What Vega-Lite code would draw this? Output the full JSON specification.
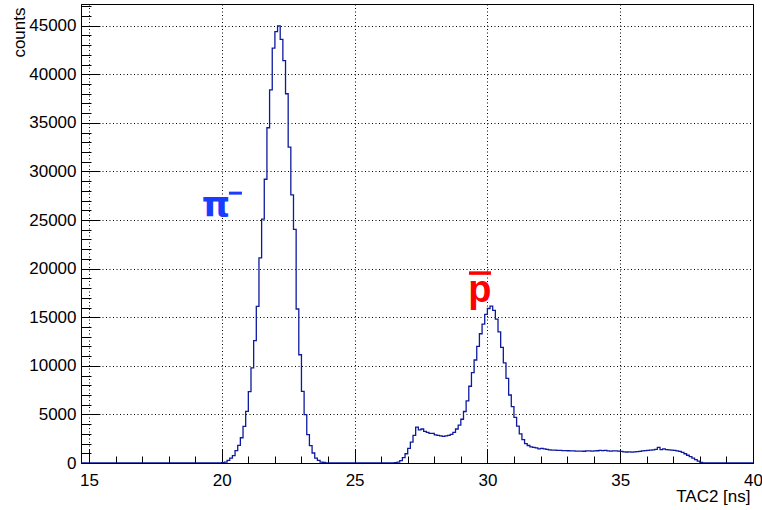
{
  "$schema": "https://vega.github.io/schema/vega-lite/v6.json",
  "width": 672,
  "height": 459,
  "autosize": {"type": "none"},
  "padding": {"left": 81, "top": 4, "right": 9, "bottom": 47},
  "background": "white",
  "config": {
    "view": {"stroke": "black", "strokeWidth": 1},
    "font": "Liberation Sans",
    "axis": {"labelFont": "Liberation Sans", "titleFont": "Liberation Sans", "labelColor": "black", "titleColor": "black", "tickColor": "black", "domainColor": "black", "titleFontWeight": "normal"}
  },
  "datasets": {
    "hist": [
      {"tac2": 14.7, "counts": 0},
      {"tac2": 20.0, "counts": 30},
      {"tac2": 20.1, "counts": 100},
      {"tac2": 20.2, "counts": 270},
      {"tac2": 20.3, "counts": 510},
      {"tac2": 20.4, "counts": 750},
      {"tac2": 20.5, "counts": 1270},
      {"tac2": 20.6, "counts": 1810},
      {"tac2": 20.7, "counts": 2600},
      {"tac2": 20.8, "counts": 3770},
      {"tac2": 20.9, "counts": 5310},
      {"tac2": 21.0, "counts": 7340},
      {"tac2": 21.1, "counts": 9780},
      {"tac2": 21.2, "counts": 12600},
      {"tac2": 21.3, "counts": 16120},
      {"tac2": 21.4, "counts": 21100},
      {"tac2": 21.5, "counts": 25100},
      {"tac2": 21.6, "counts": 29200},
      {"tac2": 21.7, "counts": 34500},
      {"tac2": 21.8, "counts": 38400},
      {"tac2": 21.9, "counts": 42700},
      {"tac2": 22.0, "counts": 44400},
      {"tac2": 22.1, "counts": 44980},
      {"tac2": 22.2, "counts": 43600},
      {"tac2": 22.3, "counts": 41400},
      {"tac2": 22.4, "counts": 38000},
      {"tac2": 22.5, "counts": 32500},
      {"tac2": 22.6, "counts": 27600},
      {"tac2": 22.7, "counts": 24050},
      {"tac2": 22.8, "counts": 15850},
      {"tac2": 22.9, "counts": 11140},
      {"tac2": 23.0, "counts": 7370},
      {"tac2": 23.1, "counts": 4970},
      {"tac2": 23.2, "counts": 2910},
      {"tac2": 23.3, "counts": 1780},
      {"tac2": 23.4, "counts": 1030},
      {"tac2": 23.5, "counts": 510},
      {"tac2": 23.6, "counts": 270},
      {"tac2": 23.7, "counts": 100},
      {"tac2": 23.8, "counts": 50},
      {"tac2": 23.9, "counts": 20},
      {"tac2": 24.0, "counts": 0},
      {"tac2": 26.4, "counts": 0},
      {"tac2": 26.5, "counts": 30},
      {"tac2": 26.6, "counts": 100},
      {"tac2": 26.7, "counts": 250},
      {"tac2": 26.8, "counts": 550},
      {"tac2": 26.9, "counts": 950},
      {"tac2": 27.0, "counts": 1500},
      {"tac2": 27.1, "counts": 2150},
      {"tac2": 27.2, "counts": 2850},
      {"tac2": 27.3, "counts": 3700},
      {"tac2": 27.4, "counts": 3400},
      {"tac2": 27.5, "counts": 3500},
      {"tac2": 27.6, "counts": 3250},
      {"tac2": 27.7, "counts": 3150},
      {"tac2": 27.8, "counts": 3050},
      {"tac2": 27.9, "counts": 3050},
      {"tac2": 28.0, "counts": 2900},
      {"tac2": 28.1, "counts": 2850},
      {"tac2": 28.2, "counts": 2800},
      {"tac2": 28.3, "counts": 2750},
      {"tac2": 28.4, "counts": 2800},
      {"tac2": 28.5, "counts": 2850},
      {"tac2": 28.6, "counts": 2950},
      {"tac2": 28.7, "counts": 3150},
      {"tac2": 28.8, "counts": 3500},
      {"tac2": 28.9, "counts": 3900},
      {"tac2": 29.0, "counts": 4500},
      {"tac2": 29.1, "counts": 5300},
      {"tac2": 29.2, "counts": 6400},
      {"tac2": 29.3, "counts": 7900},
      {"tac2": 29.4, "counts": 9300},
      {"tac2": 29.5, "counts": 10600},
      {"tac2": 29.6, "counts": 12000},
      {"tac2": 29.7, "counts": 13300},
      {"tac2": 29.8, "counts": 14300},
      {"tac2": 29.9, "counts": 15300},
      {"tac2": 30.0, "counts": 15900},
      {"tac2": 30.1, "counts": 16150},
      {"tac2": 30.2, "counts": 15700},
      {"tac2": 30.3, "counts": 14800},
      {"tac2": 30.4, "counts": 13500},
      {"tac2": 30.5, "counts": 11900},
      {"tac2": 30.6, "counts": 10300},
      {"tac2": 30.7, "counts": 8700},
      {"tac2": 30.8, "counts": 7000},
      {"tac2": 30.9, "counts": 5800},
      {"tac2": 31.0, "counts": 4700},
      {"tac2": 31.1, "counts": 3800},
      {"tac2": 31.2, "counts": 3000},
      {"tac2": 31.3, "counts": 2400},
      {"tac2": 31.4, "counts": 2000},
      {"tac2": 31.5, "counts": 1800},
      {"tac2": 31.6, "counts": 1650},
      {"tac2": 31.7, "counts": 1600},
      {"tac2": 31.8, "counts": 1550},
      {"tac2": 31.9, "counts": 1450},
      {"tac2": 32.0, "counts": 1500},
      {"tac2": 32.1, "counts": 1450},
      {"tac2": 32.2, "counts": 1400},
      {"tac2": 32.3, "counts": 1350},
      {"tac2": 32.4, "counts": 1330},
      {"tac2": 32.5, "counts": 1320},
      {"tac2": 32.6, "counts": 1300},
      {"tac2": 32.7, "counts": 1300},
      {"tac2": 32.8, "counts": 1280},
      {"tac2": 32.9, "counts": 1270},
      {"tac2": 33.0, "counts": 1260},
      {"tac2": 33.1, "counts": 1250},
      {"tac2": 33.2, "counts": 1240},
      {"tac2": 33.3, "counts": 1230},
      {"tac2": 33.4, "counts": 1220},
      {"tac2": 33.5, "counts": 1230},
      {"tac2": 33.6, "counts": 1210},
      {"tac2": 33.7, "counts": 1240},
      {"tac2": 33.8, "counts": 1250},
      {"tac2": 33.9, "counts": 1220},
      {"tac2": 34.0, "counts": 1240},
      {"tac2": 34.1, "counts": 1260},
      {"tac2": 34.2, "counts": 1300},
      {"tac2": 34.3, "counts": 1280},
      {"tac2": 34.4, "counts": 1300},
      {"tac2": 34.5, "counts": 1250},
      {"tac2": 34.6, "counts": 1220},
      {"tac2": 34.7, "counts": 1240},
      {"tac2": 34.8, "counts": 1250},
      {"tac2": 34.9, "counts": 1220},
      {"tac2": 35.0, "counts": 1200},
      {"tac2": 35.1, "counts": 1150},
      {"tac2": 35.2, "counts": 1130},
      {"tac2": 35.3, "counts": 1140},
      {"tac2": 35.4, "counts": 1120},
      {"tac2": 35.5, "counts": 1150},
      {"tac2": 35.6, "counts": 1170},
      {"tac2": 35.7, "counts": 1200},
      {"tac2": 35.8, "counts": 1250},
      {"tac2": 35.9, "counts": 1280},
      {"tac2": 36.0, "counts": 1300},
      {"tac2": 36.1, "counts": 1330},
      {"tac2": 36.2, "counts": 1350},
      {"tac2": 36.3, "counts": 1400},
      {"tac2": 36.4, "counts": 1600},
      {"tac2": 36.5, "counts": 1380},
      {"tac2": 36.6, "counts": 1450},
      {"tac2": 36.7, "counts": 1380},
      {"tac2": 36.8, "counts": 1350},
      {"tac2": 36.9, "counts": 1330},
      {"tac2": 37.0, "counts": 1300},
      {"tac2": 37.1, "counts": 1250},
      {"tac2": 37.2, "counts": 1200},
      {"tac2": 37.3, "counts": 1100},
      {"tac2": 37.4, "counts": 950},
      {"tac2": 37.5, "counts": 800},
      {"tac2": 37.6, "counts": 650},
      {"tac2": 37.7, "counts": 500},
      {"tac2": 37.8, "counts": 350},
      {"tac2": 37.9, "counts": 200},
      {"tac2": 38.0, "counts": 50},
      {"tac2": 38.1, "counts": 0},
      {"tac2": 40.0, "counts": 0}
    ],
    "pi": [{"label": "π", "tac2": 19.78, "counts": 25300}],
    "pbar": [{"label": "p", "tac2": 29.72, "counts": 16560}]
  },
  "layer": [
    {
      "data": {"name": "hist"},
      "mark": {"type": "line", "interpolate": "step-after", "color": "#0d1a9e", "strokeWidth": 1.3, "clip": true},
      "encoding": {
        "x": {"field": "tac2", "type": "quantitative",
          "scale": {"domain": [14.7, 40], "nice": false, "zero": false},
          "axis": {"orient": "bottom", "values": [16,17,18,19,21,22,23,24,26,27,28,29,31,32,33,34,36,37,38,39], "labels": false, "grid": false, "domain": false, "tickSize": -7, "tickWidth": 1, "title": null}},
        "y": {"field": "counts", "type": "quantitative",
          "scale": {"domain": [0, 47234], "nice": false},
          "axis": {"orient": "left", "values": [1000,2000,3000,4000,6000,7000,8000,9000,11000,12000,13000,14000,16000,17000,18000,19000,21000,22000,23000,24000,26000,27000,28000,29000,31000,32000,33000,34000,36000,37000,38000,39000,41000,42000,43000,44000,46000,47000], "labels": false, "grid": false, "domain": false, "tickSize": -10, "tickWidth": 1, "title": null}}
      }
    },
    {
      "data": {"name": "pi"},
      "mark": {"type": "text", "font": "DejaVu Sans", "fontWeight": "bold", "fontSize": 36, "color": "#1a3cff", "align": "center", "baseline": "alphabetic"},
      "encoding": {
        "text": {"field": "label"},
        "x": {"field": "tac2", "type": "quantitative",
          "axis": {"orient": "bottom", "values": [15,20,25,30,35,40], "format": "d", "tickSize": -14, "tickWidth": 1, "grid": true, "gridColor": "black", "gridDash": [1,2.5], "gridWidth": 1, "gridOpacity": 1, "domain": true, "labelFontSize": 17, "labelPadding": 23, "labelFlush": false, "title": "TAC2 [ns]", "titleFontSize": 17, "titleAlign": "right", "titleBaseline": "alphabetic", "titleX": 669, "titleY": 38, "titleAnchor": null}},
        "y": {"field": "counts", "type": "quantitative",
          "axis": {"orient": "left", "values": [0,5000,10000,15000,20000,25000,30000,35000,40000,45000], "format": "d", "tickSize": -19, "tickWidth": 1, "grid": true, "gridColor": "black", "gridDash": [1,2.5], "gridWidth": 1, "gridOpacity": 1, "domain": true, "labelFontSize": 17, "labelPadding": 24, "labelFlush": false, "title": "counts", "titleFontSize": 17, "titleAngle": -90, "titleAlign": "right", "titleBaseline": "alphabetic", "titleX": -57, "titleY": 3, "titleAnchor": null}}
      }
    },
    {
      "data": {"name": "pi"},
      "mark": {"type": "rule", "color": "#1a3cff", "strokeWidth": 3, "xOffset": 13, "x2Offset": 26, "yOffset": -24},
      "encoding": {
        "x": {"field": "tac2", "type": "quantitative", "axis": null},
        "x2": {"field": "tac2"},
        "y": {"field": "counts", "type": "quantitative", "axis": null}
      }
    },
    {
      "data": {"name": "pbar"},
      "mark": {"type": "text", "font": "Liberation Sans", "fontWeight": "bold", "fontSize": 38, "color": "#ff0000", "align": "center", "baseline": "alphabetic"},
      "encoding": {
        "text": {"field": "label"},
        "x": {"field": "tac2", "type": "quantitative", "axis": null},
        "y": {"field": "counts", "type": "quantitative", "axis": null}
      }
    },
    {
      "data": {"name": "pbar"},
      "mark": {"type": "rule", "color": "#ff0000", "strokeWidth": 3.5, "xOffset": -11, "x2Offset": 11, "yOffset": -29},
      "encoding": {
        "x": {"field": "tac2", "type": "quantitative", "axis": null},
        "x2": {"field": "tac2"},
        "y": {"field": "counts", "type": "quantitative", "axis": null}
      }
    }
  ],
  "resolve": {"axis": {"x": "independent", "y": "independent"}}
}
